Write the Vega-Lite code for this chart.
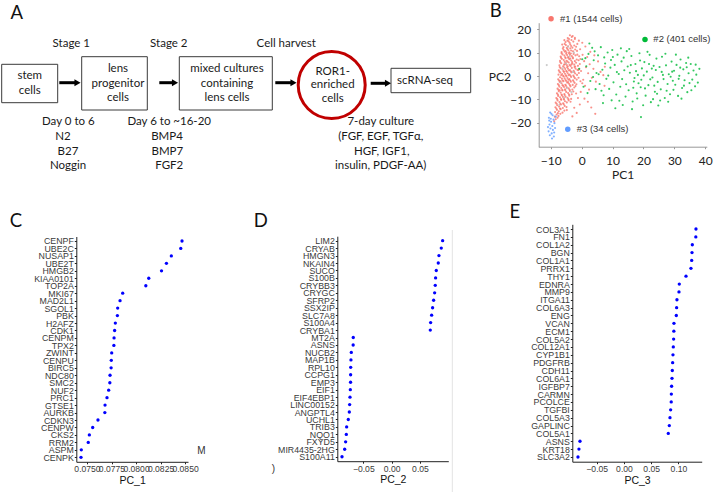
{
"$schema": "https://vega.github.io/schema/vega-lite/v6.json",
"width": 714, "height": 492, "autosize": {"type": "none"}, "padding": 0, "background": "white",
"config": {
  "view": {"stroke": null},
  "axis": {"grid": false, "labelFlush": false, "labelOverlap": false, "labelFont": "Liberation Sans", "labelFontSize": 8.6, "labelColor": "#3a3a3a", "titleFont": "Liberation Sans", "titleFontSize": 10.5, "titleFontWeight": "normal", "titleColor": "#111", "domainColor": "#222", "tickColor": "#222", "tickSize": 2, "labelPadding": 1, "titlePadding": 2},
  "axisY": {"labelFontSize": 8.8}
},
"datasets": {
  "dbox": [{"x":1.7,"x2":57.7,"y":64.3,"y2":102.7},{"x":81.7,"x2":147.3,"y":56.7,"y2":110},{"x":179.3,"x2":272.3,"y":56.7,"y2":110},{"x":391,"x2":470.7,"y":68.3,"y2":92.7}],
  "darrow": [{"x":59.3,"x2":76,"hx":77.5,"y":82.7},{"x":159.3,"x2":173.5,"hx":175,"y":82.7},{"x":275.3,"x2":292,"hx":293.5,"y":82.7},{"x":370.7,"x2":386.5,"hx":388,"y":83.3}],
  "dcircle": [{"x":331.7,"y":85}],
  "dtext": [
    {"t":"stem","x":29.7,"y":76},{"t":"cells","x":29.7,"y":90.7},
    {"t":"lens","x":118,"y":69.3},{"t":"progenitor","x":118,"y":84},{"t":"cells","x":118,"y":98.3},
    {"t":"mixed cultures","x":227,"y":69.3},{"t":"containing","x":227,"y":84},{"t":"lens cells","x":227,"y":98.3},
    {"t":"ROR1-","x":332.7,"y":71.7},{"t":"enriched","x":332.7,"y":85},{"t":"cells","x":332.7,"y":99.3},
    {"t":"scRNA-seq","x":425,"y":81},
    {"t":"Stage 1","x":71.3,"y":44.3},{"t":"Stage 2","x":168.8,"y":44.3},{"t":"Cell harvest","x":286.2,"y":44.3},
    {"t":"Day 0 to 6","x":68.3,"y":121.7},{"t":"N2","x":63,"y":136.7},{"t":"B27","x":68,"y":151.7},{"t":"Noggin","x":68,"y":165.7},
    {"t":"Day 6 to ~16-20","x":169.2,"y":121.7},{"t":"BMP4","x":167,"y":136.7},{"t":"BMP7","x":167.3,"y":151.7},{"t":"FGF2","x":169.2,"y":165.7},
    {"t":"7-day culture","x":380.8,"y":121.7},{"t":"(FGF, EGF, TGFα,","x":380.8,"y":136.7},{"t":"HGF, IGF1,","x":381.7,"y":151.7},{"t":"insulin, PDGF-AA)","x":380.7,"y":165.7}
  ],
  "dletter": [{"t":"A","x":16.7,"y":18.6},{"t":"B","x":495.8,"y":16.8},{"t":"C","x":15.8,"y":226.8},{"t":"D","x":260.8,"y":226.8},{"t":"E","x":514.8,"y":218.4}],
  "dstray": [{"t":"M","x":201.3,"y":450.7},{"t":")","x":273.3,"y":469}],
  "dline": [{"x":452.3,"y":230,"y2":492}],
  "blegend": [{"g":"r","x":-9.9,"y":24.6,"tx":-7.0,"label":"#1 (1544 cells)"},{"g":"gr","x":20.5,"y":15.7,"tx":23.2,"label":"#2 (401 cells)"},{"g":"b","x":-4.5,"y":-22.8,"tx":-1.6,"label":"#3 (34 cells)"}],
  "pca": [
{"g":"r","x":-4.5,"y":16.3},{"g":"r","x":-3.8,"y":17.5},{"g":"r","x":-3.2,"y":16.8},{"g":"r","x":-4.1,"y":15.9},{"g":"r","x":-2.9,"y":17.2},
{"g":"r","x":-5.2,"y":14.6},{"g":"r","x":-4.6,"y":15.2},{"g":"r","x":-3.9,"y":14.3},{"g":"r","x":-3.3,"y":15.5},{"g":"r","x":-2.7,"y":14.8},{"g":"r","x":-5.6,"y":15.4},{"g":"r","x":-4.2,"y":14.9},{"g":"r","x":-2.2,"y":15.9},
{"g":"r","x":-5.9,"y":12.4},{"g":"r","x":-5.1,"y":13.3},{"g":"r","x":-4.4,"y":12.8},{"g":"r","x":-3.7,"y":13.6},{"g":"r","x":-3.0,"y":12.2},{"g":"r","x":-2.4,"y":13.1},{"g":"r","x":-6.3,"y":13.5},{"g":"r","x":-4.8,"y":12.1},{"g":"r","x":-3.4,"y":12.9},{"g":"r","x":-1.8,"y":12.6},{"g":"r","x":-5.5,"y":13.8},
{"g":"r","x":-6.5,"y":10.3},{"g":"r","x":-5.8,"y":11.2},{"g":"r","x":-5.2,"y":10.7},{"g":"r","x":-4.6,"y":11.6},{"g":"r","x":-4.0,"y":10.2},{"g":"r","x":-3.4,"y":11.0},{"g":"r","x":-2.8,"y":10.6},{"g":"r","x":-2.1,"y":11.4},{"g":"r","x":-6.1,"y":11.8},{"g":"r","x":-4.9,"y":10.1},{"g":"r","x":-3.7,"y":11.9},{"g":"r","x":-1.5,"y":10.8},{"g":"r","x":-5.5,"y":10.5},{"g":"r","x":-4.3,"y":11.1},
{"g":"r","x":-6.8,"y":8.4},{"g":"r","x":-6.2,"y":9.3},{"g":"r","x":-5.6,"y":8.8},{"g":"r","x":-5.0,"y":9.6},{"g":"r","x":-4.4,"y":8.2},{"g":"r","x":-3.8,"y":9.1},{"g":"r","x":-3.2,"y":8.6},{"g":"r","x":-2.6,"y":9.5},{"g":"r","x":-2.0,"y":8.9},{"g":"r","x":-6.5,"y":9.8},{"g":"r","x":-5.3,"y":8.1},{"g":"r","x":-4.1,"y":9.8},{"g":"r","x":-2.9,"y":8.0},{"g":"r","x":-1.4,"y":9.2},{"g":"r","x":-4.7,"y":9.0},{"g":"r","x":-3.5,"y":9.7},{"g":"r","x":-0.8,"y":8.5},
{"g":"r","x":-7.0,"y":6.5},{"g":"r","x":-6.4,"y":7.4},{"g":"r","x":-5.8,"y":6.9},{"g":"r","x":-5.2,"y":7.7},{"g":"r","x":-4.6,"y":6.2},{"g":"r","x":-4.0,"y":7.2},{"g":"r","x":-3.4,"y":6.7},{"g":"r","x":-2.8,"y":7.6},{"g":"r","x":-2.2,"y":6.4},{"g":"r","x":-1.6,"y":7.1},{"g":"r","x":-6.7,"y":7.9},{"g":"r","x":-5.5,"y":6.1},{"g":"r","x":-4.3,"y":7.8},{"g":"r","x":-3.1,"y":6.0},{"g":"r","x":-1.0,"y":6.8},{"g":"r","x":-4.9,"y":6.6},{"g":"r","x":-3.7,"y":7.5},{"g":"r","x":-0.4,"y":7.3},
{"g":"r","x":-7.2,"y":4.6},{"g":"r","x":-6.6,"y":5.5},{"g":"r","x":-6.0,"y":4.2},{"g":"r","x":-5.4,"y":5.1},{"g":"r","x":-4.8,"y":4.7},{"g":"r","x":-4.2,"y":5.8},{"g":"r","x":-3.6,"y":4.3},{"g":"r","x":-3.0,"y":5.4},{"g":"r","x":-2.4,"y":4.9},{"g":"r","x":-1.8,"y":5.7},{"g":"r","x":-1.2,"y":4.4},{"g":"r","x":-6.9,"y":5.9},{"g":"r","x":-5.7,"y":4.9},{"g":"r","x":-4.5,"y":4.1},{"g":"r","x":-3.3,"y":5.0},{"g":"r","x":-2.1,"y":4.1},{"g":"r","x":-0.6,"y":5.2},{"g":"r","x":-5.1,"y":5.6},{"g":"r","x":-3.9,"y":4.8},
{"g":"r","x":-7.4,"y":2.5},{"g":"r","x":-6.8,"y":3.4},{"g":"r","x":-6.2,"y":2.8},{"g":"r","x":-5.6,"y":3.7},{"g":"r","x":-5.0,"y":2.2},{"g":"r","x":-4.4,"y":3.1},{"g":"r","x":-3.8,"y":2.6},{"g":"r","x":-3.2,"y":3.5},{"g":"r","x":-2.6,"y":2.3},{"g":"r","x":-2.0,"y":3.2},{"g":"r","x":-1.4,"y":2.7},{"g":"r","x":-7.1,"y":3.9},{"g":"r","x":-5.9,"y":2.1},{"g":"r","x":-4.7,"y":3.8},{"g":"r","x":-3.5,"y":2.0},{"g":"r","x":-2.3,"y":3.9},{"g":"r","x":-0.8,"y":3.0},{"g":"r","x":-5.3,"y":3.0},{"g":"r","x":-4.1,"y":2.4},{"g":"r","x":-0.2,"y":2.2},
{"g":"r","x":-7.5,"y":0.6},{"g":"r","x":-6.9,"y":1.5},{"g":"r","x":-6.3,"y":0.9},{"g":"r","x":-5.7,"y":1.8},{"g":"r","x":-5.1,"y":0.3},{"g":"r","x":-4.5,"y":1.2},{"g":"r","x":-3.9,"y":0.7},{"g":"r","x":-3.3,"y":1.6},{"g":"r","x":-2.7,"y":0.2},{"g":"r","x":-2.1,"y":1.1},{"g":"r","x":-1.5,"y":0.5},{"g":"r","x":-7.2,"y":1.9},{"g":"r","x":-6.0,"y":0.1},{"g":"r","x":-4.8,"y":1.9},{"g":"r","x":-3.6,"y":0.1},{"g":"r","x":-2.4,"y":1.7},{"g":"r","x":-0.9,"y":1.3},{"g":"r","x":-5.4,"y":1.0},{"g":"r","x":-4.2,"y":0.4},{"g":"r","x":-6.6,"y":0.4},
{"g":"r","x":-7.6,"y":-1.4},{"g":"r","x":-7.0,"y":-0.5},{"g":"r","x":-6.4,"y":-1.1},{"g":"r","x":-5.8,"y":-0.2},{"g":"r","x":-5.2,"y":-1.7},{"g":"r","x":-4.6,"y":-0.8},{"g":"r","x":-4.0,"y":-1.3},{"g":"r","x":-3.4,"y":-0.4},{"g":"r","x":-2.8,"y":-1.8},{"g":"r","x":-2.2,"y":-0.9},{"g":"r","x":-1.6,"y":-1.5},{"g":"r","x":-7.3,"y":-1.9},{"g":"r","x":-6.1,"y":-1.9},{"g":"r","x":-4.9,"y":-0.1},{"g":"r","x":-3.7,"y":-1.9},{"g":"r","x":-2.5,"y":-0.3},{"g":"r","x":-1.0,"y":-0.7},{"g":"r","x":-5.5,"y":-1.0},{"g":"r","x":-4.3,"y":-1.6},
{"g":"r","x":-7.7,"y":-3.4},{"g":"r","x":-7.1,"y":-2.5},{"g":"r","x":-6.5,"y":-3.1},{"g":"r","x":-5.9,"y":-2.2},{"g":"r","x":-5.3,"y":-3.7},{"g":"r","x":-4.7,"y":-2.8},{"g":"r","x":-4.1,"y":-3.3},{"g":"r","x":-3.5,"y":-2.4},{"g":"r","x":-2.9,"y":-3.8},{"g":"r","x":-2.3,"y":-2.9},{"g":"r","x":-1.7,"y":-3.5},{"g":"r","x":-7.4,"y":-3.9},{"g":"r","x":-6.2,"y":-3.9},{"g":"r","x":-5.0,"y":-2.1},{"g":"r","x":-3.8,"y":-3.9},{"g":"r","x":-2.6,"y":-2.3},{"g":"r","x":-6.8,"y":-2.2},{"g":"r","x":-4.4,"y":-2.6},
{"g":"r","x":-7.8,"y":-5.4},{"g":"r","x":-7.2,"y":-4.5},{"g":"r","x":-6.6,"y":-5.1},{"g":"r","x":-6.0,"y":-4.2},{"g":"r","x":-5.4,"y":-5.7},{"g":"r","x":-4.8,"y":-4.8},{"g":"r","x":-4.2,"y":-5.3},{"g":"r","x":-3.6,"y":-4.4},{"g":"r","x":-3.0,"y":-5.8},{"g":"r","x":-2.4,"y":-4.9},{"g":"r","x":-7.5,"y":-5.9},{"g":"r","x":-6.3,"y":-5.9},{"g":"r","x":-5.1,"y":-4.1},{"g":"r","x":-3.9,"y":-5.9},{"g":"r","x":-2.0,"y":-4.3},{"g":"r","x":-5.7,"y":-4.7},
{"g":"r","x":-8.0,"y":-7.4},{"g":"r","x":-7.4,"y":-6.5},{"g":"r","x":-6.8,"y":-7.1},{"g":"r","x":-6.2,"y":-6.2},{"g":"r","x":-5.6,"y":-7.7},{"g":"r","x":-5.0,"y":-6.8},{"g":"r","x":-4.4,"y":-7.3},{"g":"r","x":-3.8,"y":-6.4},{"g":"r","x":-3.2,"y":-7.8},{"g":"r","x":-7.7,"y":-7.9},{"g":"r","x":-6.5,"y":-7.9},{"g":"r","x":-5.3,"y":-6.1},{"g":"r","x":-4.1,"y":-7.9},{"g":"r","x":-2.7,"y":-6.6},{"g":"r","x":-7.1,"y":-6.1},
{"g":"r","x":-8.2,"y":-9.4},{"g":"r","x":-7.6,"y":-8.5},{"g":"r","x":-7.0,"y":-9.1},{"g":"r","x":-6.4,"y":-8.2},{"g":"r","x":-5.8,"y":-9.7},{"g":"r","x":-5.2,"y":-8.8},{"g":"r","x":-4.6,"y":-9.3},{"g":"r","x":-4.0,"y":-8.4},{"g":"r","x":-3.4,"y":-9.8},{"g":"r","x":-7.9,"y":-9.9},{"g":"r","x":-6.7,"y":-9.9},{"g":"r","x":-5.5,"y":-8.1},{"g":"r","x":-4.3,"y":-9.9},{"g":"r","x":-6.1,"y":-8.9},
{"g":"r","x":-8.4,"y":-11.4},{"g":"r","x":-7.8,"y":-10.5},{"g":"r","x":-7.2,"y":-11.1},{"g":"r","x":-6.6,"y":-10.2},{"g":"r","x":-6.0,"y":-11.7},{"g":"r","x":-5.4,"y":-10.8},{"g":"r","x":-4.8,"y":-11.3},{"g":"r","x":-4.2,"y":-10.4},{"g":"r","x":-8.1,"y":-11.9},{"g":"r","x":-6.9,"y":-11.9},{"g":"r","x":-5.7,"y":-10.1},{"g":"r","x":-3.6,"y":-11.0},
{"g":"r","x":-8.5,"y":-13.4},{"g":"r","x":-7.9,"y":-12.5},{"g":"r","x":-7.3,"y":-13.1},{"g":"r","x":-6.7,"y":-12.2},{"g":"r","x":-6.1,"y":-13.7},{"g":"r","x":-5.5,"y":-12.8},{"g":"r","x":-4.9,"y":-13.3},{"g":"r","x":-8.2,"y":-13.9},{"g":"r","x":-7.0,"y":-13.9},{"g":"r","x":-5.8,"y":-12.1},
{"g":"r","x":-8.6,"y":-15.4},{"g":"r","x":-8.0,"y":-14.5},{"g":"r","x":-7.4,"y":-15.1},{"g":"r","x":-6.8,"y":-14.2},{"g":"r","x":-6.2,"y":-15.7},{"g":"r","x":-5.6,"y":-14.8},{"g":"r","x":-7.7,"y":-15.9},{"g":"r","x":-4.8,"y":-14.6},
{"g":"r","x":-8.7,"y":-17.4},{"g":"r","x":-8.1,"y":-16.5},{"g":"r","x":-7.5,"y":-17.1},{"g":"r","x":-6.9,"y":-16.2},{"g":"r","x":-7.8,"y":-17.9},{"g":"r","x":-8.4,"y":-18.5},{"g":"r","x":-8.9,"y":-19.4},
{"g":"r","x":-0.5,"y":11.5},{"g":"r","x":0.3,"y":9.1},{"g":"r","x":0.8,"y":6.4},{"g":"r","x":1.4,"y":3.8},{"g":"r","x":2.1,"y":1.2},{"g":"r","x":0.5,"y":-1.6},{"g":"r","x":1.1,"y":-4.2},{"g":"r","x":-0.3,"y":-6.8},{"g":"r","x":0.2,"y":-3.1},{"g":"r","x":1.8,"y":8.2},{"g":"r","x":2.6,"y":5.1},{"g":"r","x":3.3,"y":-0.7},{"g":"r","x":2.4,"y":-5.8},{"g":"r","x":-1.2,"y":-9.4},{"g":"r","x":-0.6,"y":-12.2},{"g":"r","x":0.9,"y":-9.7},{"g":"r","x":3.8,"y":3.1},{"g":"r","x":4.6,"y":-2.4},{"g":"r","x":5.3,"y":6.3},{"g":"r","x":-1.4,"y":13.8},{"g":"r","x":-0.9,"y":15.2},{"g":"r","x":1.2,"y":12.7},{"g":"r","x":6.1,"y":1.8},{"g":"r","x":7.4,"y":-4.2},{"g":"r","x":7.5,"y":4.0},{"g":"r","x":7.0,"y":0.4},{"g":"r","x":-2.4,"y":-13.6},{"g":"r","x":-1.6,"y":-15.8},{"g":"r","x":0.2,"y":14.3},{"g":"r","x":2.8,"y":10.4},{"g":"r","x":4.1,"y":8.9},{"g":"r","x":-3.0,"y":-17.3},{"g":"r","x":-2.2,"y":16.4},{"g":"r","x":3.1,"y":-13.5},{"g":"r","x":4.4,"y":-16.2},{"g":"r","x":2.0,"y":-11.0},{"g":"r","x":-1.8,"y":-7.5},{"g":"r","x":-0.4,"y":-2.2},{"g":"r","x":-1.1,"y":2.5},
{"g":"n","x":-11.3,"y":4.7},{"g":"n","x":-6.2,"y":3.3},{"g":"n","x":-4.8,"y":-5.2},{"g":"n","x":-3.9,"y":8.4},{"g":"n","x":-5.6,"y":-9.2},{"g":"n","x":-4.4,"y":12.6},{"g":"n","x":-2.8,"y":1.7},{"g":"n","x":-6.9,"y":-2.8},{"g":"n","x":-3.3,"y":-6.9},{"g":"n","x":-5.1,"y":5.4},{"g":"n","x":-7.2,"y":-12.3},{"g":"n","x":-2.5,"y":10.1},
{"g":"gr","x":1.5,"y":4.2},{"g":"gr","x":2.2,"y":9.5},{"g":"gr","x":2.8,"y":-2.1},{"g":"gr","x":3.4,"y":12.1},{"g":"gr","x":3.9,"y":6.8},{"g":"gr","x":4.5,"y":-5.6},{"g":"gr","x":1.9,"y":-7.3},{"g":"gr","x":4.8,"y":1.3},{"g":"gr","x":2.5,"y":14.0},{"g":"gr","x":3.7,"y":-0.4},{"g":"gr","x":4.2,"y":10.6},{"g":"gr","x":1.2,"y":7.7},
{"g":"gr","x":5.3,"y":8.9},{"g":"gr","x":5.8,"y":-3.4},{"g":"gr","x":6.2,"y":12.4},{"g":"gr","x":6.7,"y":2.7},{"g":"gr","x":7.1,"y":-8.2},{"g":"gr","x":7.6,"y":5.4},{"g":"gr","x":8.0,"y":-1.2},{"g":"gr","x":8.4,"y":10.1},{"g":"gr","x":8.9,"y":-5.5},{"g":"gr","x":9.3,"y":3.6},{"g":"gr","x":9.7,"y":-10.4},{"g":"gr","x":5.5,"y":0.8},{"g":"gr","x":6.4,"y":-6.3},{"g":"gr","x":7.3,"y":8.0},{"g":"gr","x":8.6,"y":0.2},{"g":"gr","x":9.5,"y":6.9},{"g":"gr","x":6.9,"y":-11.6},{"g":"gr","x":9.9,"y":11.2},
{"g":"gr","x":10.3,"y":-2.7},{"g":"gr","x":10.7,"y":4.8},{"g":"gr","x":11.2,"y":-7.9},{"g":"gr","x":11.6,"y":9.2},{"g":"gr","x":12.0,"y":0.9},{"g":"gr","x":12.5,"y":-4.6},{"g":"gr","x":12.9,"y":6.3},{"g":"gr","x":13.3,"y":-12.4},{"g":"gr","x":13.8,"y":2.5},{"g":"gr","x":14.2,"y":-8.8},{"g":"gr","x":14.6,"y":10.7},{"g":"gr","x":10.9,"y":-13.8},{"g":"gr","x":11.4,"y":1.7},{"g":"gr","x":12.2,"y":-10.6},{"g":"gr","x":13.1,"y":-1.3},{"g":"gr","x":13.6,"y":7.9},{"g":"gr","x":14.4,"y":-3.5},{"g":"gr","x":14.9,"y":4.1},{"g":"gr","x":10.1,"y":8.2},{"g":"gr","x":12.7,"y":11.9},
{"g":"gr","x":15.2,"y":-6.1},{"g":"gr","x":15.6,"y":1.4},{"g":"gr","x":16.1,"y":8.6},{"g":"gr","x":16.5,"y":-10.9},{"g":"gr","x":16.9,"y":-2.3},{"g":"gr","x":17.4,"y":5.2},{"g":"gr","x":17.8,"y":-7.4},{"g":"gr","x":18.2,"y":0.5},{"g":"gr","x":18.7,"y":9.8},{"g":"gr","x":19.1,"y":-4.8},{"g":"gr","x":19.5,"y":3.3},{"g":"gr","x":19.9,"y":-12.5},{"g":"gr","x":15.4,"y":11.6},{"g":"gr","x":16.3,"y":-14.2},{"g":"gr","x":17.1,"y":-0.8},{"g":"gr","x":18.0,"y":-9.6},{"g":"gr","x":18.9,"y":6.7},{"g":"gr","x":19.3,"y":-1.6},{"g":"gr","x":15.9,"y":4.7},{"g":"gr","x":17.6,"y":2.1},{"g":"gr","x":19.2,"y":-17.6},{"g":"gr","x":16.7,"y":-5.0},{"g":"gr","x":18.4,"y":-3.1},
{"g":"gr","x":20.3,"y":6.0},{"g":"gr","x":20.7,"y":-8.4},{"g":"gr","x":21.1,"y":1.9},{"g":"gr","x":21.6,"y":-3.9},{"g":"gr","x":22.0,"y":9.1},{"g":"gr","x":22.4,"y":-11.2},{"g":"gr","x":22.9,"y":-0.6},{"g":"gr","x":23.3,"y":4.4},{"g":"gr","x":23.7,"y":-6.7},{"g":"gr","x":24.2,"y":7.5},{"g":"gr","x":24.6,"y":-2.5},{"g":"gr","x":20.5,"y":-5.3},{"g":"gr","x":21.3,"y":10.4},{"g":"gr","x":22.2,"y":-1.4},{"g":"gr","x":23.1,"y":-9.9},{"g":"gr","x":24.0,"y":2.6},{"g":"gr","x":24.8,"y":-12.6},{"g":"gr","x":21.8,"y":5.2},{"g":"gr","x":23.5,"y":-4.1},{"g":"gr","x":20.1,"y":0.3},{"g":"gr","x":22.7,"y":3.2},{"g":"gr","x":24.4,"y":-7.6},
{"g":"gr","x":25.2,"y":3.9},{"g":"gr","x":25.6,"y":-5.7},{"g":"gr","x":26.0,"y":8.3},{"g":"gr","x":26.5,"y":-1.3},{"g":"gr","x":26.9,"y":-9.4},{"g":"gr","x":27.3,"y":4.6},{"g":"gr","x":27.8,"y":-3.4},{"g":"gr","x":28.2,"y":0.8},{"g":"gr","x":28.6,"y":-7.8},{"g":"gr","x":29.1,"y":6.2},{"g":"gr","x":29.5,"y":-2.0},{"g":"gr","x":29.9,"y":2.3},{"g":"gr","x":25.4,"y":-10.5},{"g":"gr","x":26.3,"y":0.5},{"g":"gr","x":27.1,"y":9.6},{"g":"gr","x":28.0,"y":-11.0},{"g":"gr","x":28.8,"y":-0.3},{"g":"gr","x":29.7,"y":-5.9},{"g":"gr","x":25.9,"y":1.8},{"g":"gr","x":27.5,"y":-6.3},{"g":"gr","x":29.3,"y":1.9},
{"g":"gr","x":30.3,"y":-3.7},{"g":"gr","x":30.7,"y":4.8},{"g":"gr","x":31.2,"y":-8.5},{"g":"gr","x":31.6,"y":0.1},{"g":"gr","x":32.0,"y":7.1},{"g":"gr","x":32.5,"y":-5.1},{"g":"gr","x":32.9,"y":2.9},{"g":"gr","x":33.3,"y":-1.8},{"g":"gr","x":33.8,"y":5.6},{"g":"gr","x":34.2,"y":-6.9},{"g":"gr","x":34.6,"y":1.2},{"g":"gr","x":30.5,"y":9.2},{"g":"gr","x":31.4,"y":-1.2},{"g":"gr","x":32.3,"y":-9.7},{"g":"gr","x":33.1,"y":-4.1},{"g":"gr","x":34.0,"y":3.8},{"g":"gr","x":34.9,"y":-3.0},{"g":"gr","x":31.9,"y":3.6},
{"g":"gr","x":35.3,"y":5.2},{"g":"gr","x":35.8,"y":-1.5},{"g":"gr","x":36.2,"y":2.4},{"g":"gr","x":36.7,"y":-4.4},{"g":"gr","x":37.1,"y":0.6},{"g":"gr","x":37.6,"y":-2.8},{"g":"gr","x":38.1,"y":3.1},{"g":"gr","x":35.5,"y":-6.1},{"g":"gr","x":36.9,"y":4.9},{"g":"gr","x":34.5,"y":7.9},
{"g":"gr","x":0.2,"y":7.2},{"g":"gr","x":-0.8,"y":3.1},{"g":"gr","x":0.6,"y":-4.6},
{"g":"b","x":-10.2,"y":-15.6},{"g":"b","x":-9.4,"y":-16.8},{"g":"b","x":-10.6,"y":-17.9},{"g":"b","x":-9.1,"y":-18.7},{"g":"b","x":-9.9,"y":-19.6},{"g":"b","x":-10.4,"y":-20.8},{"g":"b","x":-9.5,"y":-21.4},{"g":"b","x":-8.8,"y":-20.2},{"g":"b","x":-10.1,"y":-22.5},{"g":"b","x":-9.3,"y":-23.1},{"g":"b","x":-10.7,"y":-23.7},{"g":"b","x":-9.7,"y":-24.6},{"g":"b","x":-8.6,"y":-22.3},{"g":"b","x":-10.3,"y":-25.4},{"g":"b","x":-9.0,"y":-25.9},{"g":"b","x":-10.9,"y":-21.9},{"g":"b","x":-8.4,"y":-17.4},{"g":"b","x":-9.6,"y":-26.8},{"g":"b","x":-10.0,"y":-18.3},{"g":"b","x":-8.9,"y":-24.2},{"g":"b","x":-9.8,"y":-16.2},{"g":"b","x":-10.5,"y":-19.1}
  ],
  "pc1": [
{"gene":"CENPF","v":0.08469},{"gene":"UBE2C","v":0.08456},{"gene":"NUSAP1","v":0.0836},{"gene":"UBE2T","v":0.0831},{"gene":"HMGB2","v":0.0826},{"gene":"KIAA0101","v":0.0813},{"gene":"TOP2A","v":0.0810},{"gene":"MKI67","v":0.07864},{"gene":"MAD2L1","v":0.07837},{"gene":"SGOL1","v":0.07813},{"gene":"PBK","v":0.0781},{"gene":"H2AFZ","v":0.07789},{"gene":"CDK1","v":0.07782},{"gene":"CENPM","v":0.07776},{"gene":"TPX2","v":0.07774},{"gene":"ZWINT","v":0.07752},{"gene":"CENPU","v":0.07748},{"gene":"BIRC5","v":0.07746},{"gene":"NDC80","v":0.07735},{"gene":"SMC2","v":0.07733},{"gene":"NUF2","v":0.07721},{"gene":"PRC1","v":0.07704},{"gene":"GTSE1","v":0.07684},{"gene":"AURKB","v":0.07682},{"gene":"CDKN3","v":0.07612},{"gene":"CENPW","v":0.07558},{"gene":"CKS2","v":0.07524},{"gene":"RRM2","v":0.07513},{"gene":"ASPM","v":0.07442},{"gene":"CENPK","v":0.07439}
  ],
  "pc2": [
{"gene":"LIM2","v":0.09},{"gene":"CRYAB","v":0.0876},{"gene":"HMGN3","v":0.0835},{"gene":"NKAIN4","v":0.0823},{"gene":"SUCO","v":0.0788},{"gene":"S100B","v":0.0776},{"gene":"CRYBB3","v":0.077},{"gene":"CRYGC","v":0.0759},{"gene":"SFRP2","v":0.0741},{"gene":"SSX2IP","v":0.0723},{"gene":"SLC7A8","v":0.0706},{"gene":"S100A4","v":0.0688},{"gene":"CRYBA1","v":0.0682},{"gene":"MT2A","v":-0.0677},{"gene":"ASNS","v":-0.0679},{"gene":"NUCB2","v":-0.0712},{"gene":"MAP1B","v":-0.0718},{"gene":"RPL10","v":-0.0723},{"gene":"CCPG1","v":-0.0724},{"gene":"EMP3","v":-0.0725},{"gene":"EIF1","v":-0.0729},{"gene":"EIF4EBP1","v":-0.0735},{"gene":"LINC00152","v":-0.0741},{"gene":"ANGPTL4","v":-0.0747},{"gene":"UCHL1","v":-0.0765},{"gene":"TRIB3","v":-0.0794},{"gene":"NQO1","v":-0.08},{"gene":"FXYD5","v":-0.0812},{"gene":"MIR4435-2HG","v":-0.0829},{"gene":"S100A11","v":-0.0876}
  ],
  "pc3": [
{"gene":"COL3A1","v":0.1321},{"gene":"FN1","v":0.1318},{"gene":"COL1A2","v":0.1254},{"gene":"BGN","v":0.1248},{"gene":"COL1A1","v":0.1242},{"gene":"PRRX1","v":0.1229},{"gene":"THY1","v":0.1138},{"gene":"EDNRA","v":0.1015},{"gene":"MMP9","v":0.1009},{"gene":"ITGA11","v":0.0972},{"gene":"COL6A3","v":0.0966},{"gene":"ENG","v":0.096},{"gene":"VCAN","v":0.0917},{"gene":"ECM1","v":0.0915},{"gene":"COL5A2","v":0.0911},{"gene":"COL12A1","v":0.0905},{"gene":"CYP1B1","v":0.0899},{"gene":"PDGFRB","v":0.0893},{"gene":"CDH11","v":0.0887},{"gene":"COL6A1","v":0.0881},{"gene":"IGFBP7","v":0.0874},{"gene":"CARMN","v":0.0869},{"gene":"PCOLCE","v":0.0867},{"gene":"TGFBI","v":0.0856},{"gene":"COL5A3","v":0.0844},{"gene":"GAPLINC","v":0.0832},{"gene":"COL5A1","v":0.0813},{"gene":"ASNS","v":-0.0807},{"gene":"KRT18","v":-0.0826},{"gene":"SLC3A2","v":-0.0844}
  ]
},
"layer": [
  {
    "layer": [
      {"data": {"name": "dbox"}, "mark": {"type": "rect", "fill": "white", "stroke": "#3a3a3a", "strokeWidth": 1},
       "encoding": {"x": {"field": "x", "type": "quantitative", "scale": {"domain": [0, 714], "range": [0, 714], "nice": false, "zero": false}, "axis": null},
                    "x2": {"field": "x2"},
                    "y": {"field": "y", "type": "quantitative", "scale": {"domain": [0, 492], "range": [0, 492], "nice": false, "zero": false}, "axis": null},
                    "y2": {"field": "y2"}}},
      {"data": {"name": "darrow"}, "mark": {"type": "rule", "color": "black", "strokeWidth": 3},
       "encoding": {"x": {"field": "x", "type": "quantitative"}, "x2": {"field": "x2"}, "y": {"field": "y", "type": "quantitative"}}},
      {"data": {"name": "darrow"}, "mark": {"type": "point", "shape": "triangle-right", "filled": true, "color": "black", "size": 50, "opacity": 1},
       "encoding": {"x": {"field": "hx", "type": "quantitative"}, "y": {"field": "y", "type": "quantitative"}}},
      {"data": {"name": "dcircle"}, "mark": {"type": "point", "shape": "circle", "filled": false, "stroke": "#C00000", "strokeWidth": 3, "size": 4489, "opacity": 1},
       "encoding": {"x": {"field": "x", "type": "quantitative"}, "y": {"field": "y", "type": "quantitative"}}},
      {"data": {"name": "dline"}, "mark": {"type": "rule", "color": "#e3e3e3", "strokeWidth": 1},
       "encoding": {"x": {"field": "x", "type": "quantitative"}, "y": {"field": "y", "type": "quantitative"}, "y2": {"field": "y2"}}},
      {"data": {"name": "dtext"}, "mark": {"type": "text", "font": "Lato", "fontSize": 11.5, "color": "#1a1a1a", "align": "center", "baseline": "middle"},
       "encoding": {"x": {"field": "x", "type": "quantitative"}, "y": {"field": "y", "type": "quantitative"}, "text": {"field": "t"}}},
      {"data": {"name": "dletter"}, "mark": {"type": "text", "font": "Lato", "fontSize": 18.5, "color": "#111", "align": "center", "baseline": "alphabetic"},
       "encoding": {"x": {"field": "x", "type": "quantitative"}, "y": {"field": "y", "type": "quantitative"}, "text": {"field": "t"}}},
      {"data": {"name": "dstray"}, "mark": {"type": "text", "font": "Liberation Sans", "fontSize": 10, "color": "#333", "align": "center", "baseline": "middle"},
       "encoding": {"x": {"field": "x", "type": "quantitative"}, "y": {"field": "y", "type": "quantitative"}, "text": {"field": "t"}}}
    ]
  },
  {
    "layer": [
      {"data": {"name": "pca"}, "mark": {"type": "circle", "size": 4.5, "opacity": 0.8},
       "encoding": {
         "x": {"field": "x", "type": "quantitative", "scale": {"domain": [-14, 40.5], "range": [538.4, 706.8], "nice": false, "zero": false},
               "axis": {"orient": "bottom", "offset": -345.3, "values": [-10, 0, 10, 20, 30, 40], "title": "PC1", "labelFont": "Lato", "labelFontSize": 12, "labelColor": "#222", "titleFont": "Lato", "titleFontSize": 12, "titleColor": "#222", "domainColor": "#999", "tickColor": "#999", "tickSize": 2, "labelPadding": 7, "titlePadding": 3}},
         "y": {"field": "y", "type": "quantitative", "scale": {"domain": [-30.3, 22.9], "range": [146.7, 22.7], "nice": false, "zero": false},
               "axis": {"orient": "left", "offset": -538.7, "values": [-20, -10, 0, 10, 20], "title": "PC2", "titleAngle": 0, "titleX": -39.4, "titleY": 76, "titleAlign": "center", "titleBaseline": "middle", "labelFont": "Lato", "labelFontSize": 12, "labelColor": "#222", "titleFont": "Lato", "titleFontSize": 12, "titleColor": "#222", "domainColor": "#999", "tickColor": "#999", "tickSize": 2, "labelPadding": 6}},
         "color": {"field": "g", "type": "nominal", "scale": {"domain": ["r", "gr", "b", "n"], "range": ["#F8766D", "#00BA38", "#619CFF", "#BDBDBD"]}, "legend": null}}},
      {"data": {"name": "blegend"}, "mark": {"type": "circle", "size": 30, "opacity": 1},
       "encoding": {"x": {"field": "x", "type": "quantitative"}, "y": {"field": "y", "type": "quantitative"}, "color": {"field": "g", "type": "nominal"}}},
      {"data": {"name": "blegend"}, "mark": {"type": "text", "font": "Liberation Sans", "fontSize": 9.5, "color": "#333", "align": "left", "baseline": "middle"},
       "encoding": {"x": {"field": "tx", "type": "quantitative"}, "y": {"field": "y", "type": "quantitative"}, "text": {"field": "label"}}}
    ]
  },
  {
    "data": {"name": "pc1"}, "mark": {"type": "circle", "size": 11, "color": "#0000FF", "opacity": 1},
    "encoding": {
      "x": {"field": "v", "type": "quantitative", "scale": {"domain": [0.07391, 0.0853], "range": [76.3, 188], "nice": false, "zero": false},
            "axis": {"orient": "bottom", "offset": -30.2, "values": [0.075, 0.0775, 0.08, 0.0825, 0.085], "format": ".4f", "title": "PC_1"}},
      "y": {"field": "gene", "type": "nominal", "sort": null, "scale": {"type": "point", "range": [236.5, 461.8], "padding": 0.6},
            "axis": {"orient": "left", "offset": -76.3, "title": null}}
    }
  },
  {
    "data": {"name": "pc2"}, "mark": {"type": "circle", "size": 11, "color": "#0000FF", "opacity": 1},
    "encoding": {
      "x": {"field": "v", "type": "quantitative", "scale": {"domain": [-0.0959, 0.1], "range": [337.3, 448.3], "nice": false, "zero": false},
            "axis": {"orient": "bottom", "offset": -30.8, "values": [-0.05, 0, 0.05], "format": ".2f", "title": "PC_2"}},
      "y": {"field": "gene", "type": "nominal", "sort": null, "scale": {"type": "point", "range": [236.2, 461.2], "padding": 0.6},
            "axis": {"orient": "left", "offset": -337.3, "title": null}}
    }
  },
  {
    "data": {"name": "pc3"}, "mark": {"type": "circle", "size": 11, "color": "#0000FF", "opacity": 1},
    "encoding": {
      "x": {"field": "v", "type": "quantitative", "scale": {"domain": [-0.0948, 0.1426], "range": [572.3, 701.7], "nice": false, "zero": false},
            "axis": {"orient": "bottom", "offset": -30.3, "values": [-0.05, 0, 0.05, 0.1], "format": ".2f", "title": "PC_3"}},
      "y": {"field": "gene", "type": "nominal", "sort": null, "scale": {"type": "point", "range": [224.3, 461.7], "padding": 0.6},
            "axis": {"orient": "left", "offset": -572.3, "title": null}}
    }
  }
],
"resolve": {"scale": {"x": "independent", "y": "independent", "color": "independent"}, "axis": {"x": "independent", "y": "independent"}}
}
